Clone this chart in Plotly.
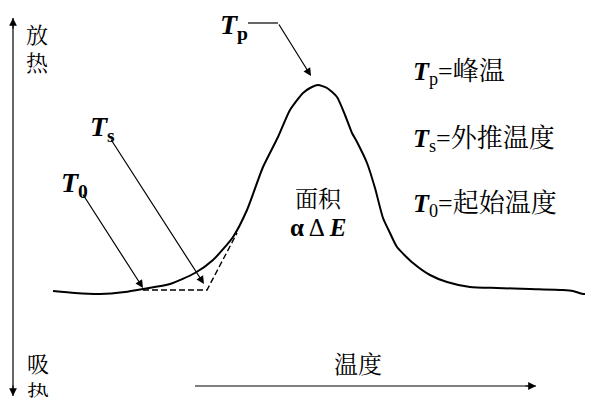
import plotly.graph_objects as go

# DSC curve (pixel-like units, y grows downwards)
curve_x = [53, 75, 100, 125, 143, 170, 195, 213, 233, 247, 263, 278, 290, 303, 310,
           318, 327, 337, 345, 352, 357, 367, 375, 383, 390, 397, 413, 430, 447,
           470, 497, 530, 563, 573, 583, 593]
curve_y = [291, 293, 294, 292, 289, 284, 273, 260, 237, 210, 167, 137, 110, 93, 88,
           85, 88, 97, 115, 133, 142, 163, 188, 218, 233, 247, 263, 275, 282,
           287, 288, 289, 290, 291, 294, 293]

# dashed extrapolation: baseline then tangent
dash_x = [143, 207, 237]
dash_y = [290, 290, 233]

# pointer lines: (tail, tip)
pointers = {
    "T0": ((82, 193), (143, 288)),
    "Ts": ((110, 138), (204, 284)),
    "Tp": ((278, 23), (311, 76)),
}
tp_bar_x = [248, 278]
tp_bar_y = [23, 23]

# axes: vertical double arrow and temperature arrow
y_axis_x = [13, 13]
y_axis_y = [18, 396]
x_axis_x = [195, 536]
x_axis_y = [386, 386]

serif = "Liberation Serif, Noto Serif CJK SC, Noto Sans CJK SC"
cjk = "Noto Serif CJK SC, Noto Sans CJK SC"

labels = [
    ("放", 37, 33, cjk, 22, "center"),
    ("热", 37, 61, cjk, 22, "center"),
    ("吸", 38, 362, cjk, 22, "center"),
    ("热", 38, 391, cjk, 22, "center"),
    ("温度", 358, 362, cjk, 24, "center"),
    ("面积", 318, 197, cjk, 23, "center"),
    ("<b>α</b> Δ <b><i>E</i></b>", 318, 227, serif, 25, "center"),
    ("<b><i>T</i><sub>p</sub></b>", 234, 26, serif, 28, "center"),
    ("<b><i>T</i><sub>s</sub></b>", 102, 128, serif, 28, "center"),
    ("<b><i>T</i><sub>0</sub></b>", 74, 184, serif, 28, "center"),
    ("<b><i>T</i></b><sub>p</sub>=峰温", 411, 73, serif, 26, "left"),
    ("<b><i>T</i></b><sub>s</sub>=外推温度", 411, 140, serif, 26, "left"),
    ("<b><i>T</i></b><sub>0</sub>=起始温度", 411, 205, serif, 26, "left"),
]

fig = go.Figure()
fig.add_trace(go.Scatter(x=curve_x, y=curve_y, mode="lines",
                         line=dict(color="black", width=2, shape="spline", smoothing=0.6),
                         hoverinfo="skip"))
fig.add_trace(go.Scatter(x=dash_x, y=dash_y, mode="lines",
                         line=dict(color="black", width=1.4, dash="6px,3px"),
                         hoverinfo="skip"))
for xs, ys in [(tp_bar_x, tp_bar_y), (y_axis_x, y_axis_y), (x_axis_x, x_axis_y)]:
    fig.add_trace(go.Scatter(x=xs, y=ys, mode="lines",
                             line=dict(color="black", width=1.2), hoverinfo="skip"))

arrows = [(tail, tip) for tail, tip in pointers.values()]
# short stubs so the axis ends get arrowheads
arrows.append(((y_axis_x[0], y_axis_y[0] + 12), (y_axis_x[0], y_axis_y[0])))
arrows.append(((y_axis_x[1], y_axis_y[1] - 12), (y_axis_x[1], y_axis_y[1])))
arrows.append(((x_axis_x[1] - 12, x_axis_y[1]), (x_axis_x[1], x_axis_y[1])))
for tail, tip in arrows:
    fig.add_annotation(x=tip[0], y=tip[1], ax=tail[0], ay=tail[1],
                       xref="x", yref="y", axref="x", ayref="y",
                       text="", showarrow=True, arrowhead=2, arrowsize=1.3,
                       arrowwidth=1.2, arrowcolor="black", standoff=0)

for text, x, y, fam, size, anchor in labels:
    fig.add_annotation(x=x, y=y, xref="x", yref="y", text=text, showarrow=False,
                       xanchor=anchor, yanchor="middle",
                       font=dict(family=fam, size=size, color="black"))

# the page body has an 8px margin, so the figure is 8px smaller and
# the ranges start at 8 to keep the picture's pixel positions
pad = 8
fig.update_layout(
    width=593 - pad, height=398 - pad,
    margin=dict(l=0, r=0, t=0, b=0),
    paper_bgcolor="white", plot_bgcolor="white",
    showlegend=False,
    xaxis=dict(range=[pad, 593], visible=False, fixedrange=True),
    yaxis=dict(range=[398, pad], visible=False, fixedrange=True),
)

fig.write_html("out.html")
